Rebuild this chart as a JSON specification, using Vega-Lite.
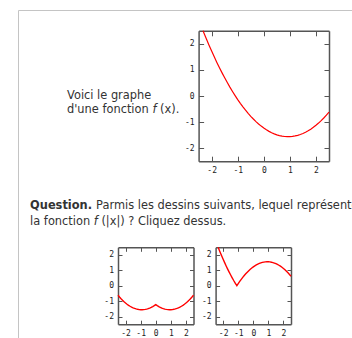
{
  "$schema": "https://vega.github.io/schema/vega-lite/v6.json",
  "width": 336,
  "height": 330,
  "autosize": {"type": "none"},
  "padding": {"left": 18, "top": 10, "right": -2, "bottom": -2},
  "background": "white",
  "datasets": {
    "f": [
      {"x": -2.329, "y": 2.5}, {"x": -2.3, "y": 2.428}, {"x": -2.2, "y": 2.185}, {"x": -2.1, "y": 1.949}, {"x": -2.0, "y": 1.722},
      {"x": -1.9, "y": 1.502}, {"x": -1.8, "y": 1.289}, {"x": -1.7, "y": 1.084}, {"x": -1.6, "y": 0.887}, {"x": -1.5, "y": 0.698},
      {"x": -1.4, "y": 0.516}, {"x": -1.3, "y": 0.341}, {"x": -1.2, "y": 0.175}, {"x": -1.1, "y": 0.016}, {"x": -1.0, "y": -0.136},
      {"x": -0.9, "y": -0.279}, {"x": -0.8, "y": -0.415}, {"x": -0.7, "y": -0.544}, {"x": -0.6, "y": -0.665}, {"x": -0.5, "y": -0.778},
      {"x": -0.4, "y": -0.883}, {"x": -0.3, "y": -0.981}, {"x": -0.2, "y": -1.071}, {"x": -0.1, "y": -1.154}, {"x": 0, "y": -1.229},
      {"x": 0.1, "y": -1.296}, {"x": 0.2, "y": -1.356}, {"x": 0.3, "y": -1.408}, {"x": 0.4, "y": -1.452}, {"x": 0.5, "y": -1.489},
      {"x": 0.6, "y": -1.518}, {"x": 0.7, "y": -1.54}, {"x": 0.8, "y": -1.553}, {"x": 0.9, "y": -1.56}, {"x": 1.0, "y": -1.558},
      {"x": 1.1, "y": -1.549}, {"x": 1.2, "y": -1.532}, {"x": 1.3, "y": -1.508}, {"x": 1.4, "y": -1.476}, {"x": 1.5, "y": -1.436},
      {"x": 1.6, "y": -1.389}, {"x": 1.7, "y": -1.334}, {"x": 1.8, "y": -1.272}, {"x": 1.9, "y": -1.201}, {"x": 2.0, "y": -1.123},
      {"x": 2.1, "y": -1.038}, {"x": 2.2, "y": -0.945}, {"x": 2.3, "y": -0.844}, {"x": 2.4, "y": -0.736}, {"x": 2.5, "y": -0.62}
    ],
    "g": [
      {"x": -2.5, "y": -0.62}, {"x": -2.4, "y": -0.736}, {"x": -2.3, "y": -0.844}, {"x": -2.2, "y": -0.945}, {"x": -2.1, "y": -1.038},
      {"x": -2.0, "y": -1.123}, {"x": -1.9, "y": -1.201}, {"x": -1.8, "y": -1.272}, {"x": -1.7, "y": -1.334}, {"x": -1.6, "y": -1.389},
      {"x": -1.5, "y": -1.436}, {"x": -1.4, "y": -1.476}, {"x": -1.3, "y": -1.508}, {"x": -1.2, "y": -1.532}, {"x": -1.1, "y": -1.549},
      {"x": -1.0, "y": -1.558}, {"x": -0.9, "y": -1.56}, {"x": -0.8, "y": -1.553}, {"x": -0.7, "y": -1.54}, {"x": -0.6, "y": -1.518},
      {"x": -0.5, "y": -1.489}, {"x": -0.4, "y": -1.452}, {"x": -0.3, "y": -1.408}, {"x": -0.2, "y": -1.356}, {"x": -0.1, "y": -1.296},
      {"x": 0, "y": -1.229},
      {"x": 0.1, "y": -1.296}, {"x": 0.2, "y": -1.356}, {"x": 0.3, "y": -1.408}, {"x": 0.4, "y": -1.452}, {"x": 0.5, "y": -1.489},
      {"x": 0.6, "y": -1.518}, {"x": 0.7, "y": -1.54}, {"x": 0.8, "y": -1.553}, {"x": 0.9, "y": -1.56}, {"x": 1.0, "y": -1.558},
      {"x": 1.1, "y": -1.549}, {"x": 1.2, "y": -1.532}, {"x": 1.3, "y": -1.508}, {"x": 1.4, "y": -1.476}, {"x": 1.5, "y": -1.436},
      {"x": 1.6, "y": -1.389}, {"x": 1.7, "y": -1.334}, {"x": 1.8, "y": -1.272}, {"x": 1.9, "y": -1.201}, {"x": 2.0, "y": -1.123},
      {"x": 2.1, "y": -1.038}, {"x": 2.2, "y": -0.945}, {"x": 2.3, "y": -0.844}, {"x": 2.4, "y": -0.736}, {"x": 2.5, "y": -0.62}
    ],
    "h": [
      {"x": -2.329, "y": 2.5}, {"x": -2.3, "y": 2.428}, {"x": -2.2, "y": 2.185}, {"x": -2.1, "y": 1.949}, {"x": -2.0, "y": 1.722},
      {"x": -1.9, "y": 1.502}, {"x": -1.8, "y": 1.289}, {"x": -1.7, "y": 1.084}, {"x": -1.6, "y": 0.887}, {"x": -1.5, "y": 0.698},
      {"x": -1.4, "y": 0.516}, {"x": -1.3, "y": 0.341}, {"x": -1.2, "y": 0.175}, {"x": -1.1, "y": 0.016}, {"x": -1.09, "y": 0},
      {"x": -1.0, "y": 0.136}, {"x": -0.9, "y": 0.279}, {"x": -0.8, "y": 0.415}, {"x": -0.7, "y": 0.544}, {"x": -0.6, "y": 0.665},
      {"x": -0.5, "y": 0.778}, {"x": -0.4, "y": 0.883}, {"x": -0.3, "y": 0.981}, {"x": -0.2, "y": 1.071}, {"x": -0.1, "y": 1.154},
      {"x": 0, "y": 1.229}, {"x": 0.1, "y": 1.296}, {"x": 0.2, "y": 1.356}, {"x": 0.3, "y": 1.408}, {"x": 0.4, "y": 1.452},
      {"x": 0.5, "y": 1.489}, {"x": 0.6, "y": 1.518}, {"x": 0.7, "y": 1.54}, {"x": 0.8, "y": 1.553}, {"x": 0.9, "y": 1.56},
      {"x": 1.0, "y": 1.558}, {"x": 1.1, "y": 1.549}, {"x": 1.2, "y": 1.532}, {"x": 1.3, "y": 1.508}, {"x": 1.4, "y": 1.476},
      {"x": 1.5, "y": 1.436}, {"x": 1.6, "y": 1.389}, {"x": 1.7, "y": 1.334}, {"x": 1.8, "y": 1.272}, {"x": 1.9, "y": 1.201},
      {"x": 2.0, "y": 1.123}, {"x": 2.1, "y": 1.038}, {"x": 2.2, "y": 0.945}, {"x": 2.3, "y": 0.844}, {"x": 2.4, "y": 0.736},
      {"x": 2.5, "y": 0.62}
    ]
  },
  "resolve": {"scale": {"x": "independent", "y": "independent"}},
  "layer": [
    {
      "mark": {"type": "rule", "color": "#aaaaaa", "strokeDash": [1, 2], "strokeWidth": 1},
      "encoding": {
        "x": {"datum": 0, "type": "quantitative", "scale": {"domain": [-2.5, 2.5], "range": [180.6, 311.0], "nice": false, "zero": false},
          "axis": {"orient": "top", "offset": -20.8, "values": [-2, -1, 0, 1, 2], "tickSize": -5, "labels": false, "title": "(x).", "titleX": 141.5, "titleY": 81.5}},
        "y": {"datum": -2.5, "type": "quantitative", "scale": {"domain": [-2.5, 2.5], "range": [151.2, 20.8], "nice": false, "zero": false},
          "axis": {"orient": "right", "offset": -25, "values": [-2, -1, 0, 1, 2], "tickSize": -5, "labels": false, "title": "f", "titleFontStyle": "italic", "titleX": -177.1, "titleY": 102.3}},
        "y2": {"datum": 2.5}
      }
    },
    {
      "mark": {"type": "rule", "color": "#aaaaaa", "strokeDash": [1, 2], "strokeWidth": 1},
      "encoding": {
        "x": {"datum": -2.5, "type": "quantitative", "scale": {"domain": [-2.5, 2.5], "range": [180.6, 311.0], "nice": false, "zero": false}, "axis": null},
        "x2": {"datum": 2.5},
        "y": {"datum": 0, "type": "quantitative", "scale": {"domain": [-2.5, 2.5], "range": [151.2, 20.8], "nice": false, "zero": false}, "axis": null}
      }
    },
    {
      "data": {"name": "f"},
      "mark": {"type": "line", "color": "#ff0000", "strokeWidth": 1.2},
      "encoding": {
        "x": {"field": "x", "type": "quantitative", "scale": {"domain": [-2.5, 2.5], "range": [180.6, 311.0], "nice": false, "zero": false},
          "axis": {"orient": "bottom", "offset": -178.8, "values": [-2, -1, 0, 1, 2], "tickSize": -5, "labelPadding": 10, "title": "Question.", "titleFontWeight": "bold", "titleX": 11.6, "titleY": 46.8}},
        "y": {"field": "y", "type": "quantitative", "scale": {"domain": [-2.5, 2.5], "range": [151.2, 20.8], "nice": false, "zero": false},
          "axis": {"orient": "left", "offset": -180.6, "values": [-2, -1, 0, 1, 2], "tickSize": -5, "labelPadding": 9.5, "title": ["Voici le graphe", "d'une fonction"], "titleLineHeight": 14.3, "titleX": -132.1, "titleY": 88}}
      }
    },
    {
      "mark": {"type": "text", "text": "f (x)", "color": "#ff0000", "align": "right", "baseline": "middle", "font": "DejaVu Sans Mono", "fontSize": 7.5},
      "encoding": {
        "x": {"datum": 0.93, "type": "quantitative", "scale": {"domain": [-2.5, 2.5], "range": [180.6, 311.0], "nice": false, "zero": false}, "axis": null},
        "y": {"datum": 2.15, "type": "quantitative", "scale": {"domain": [-2.5, 2.5], "range": [151.2, 20.8], "nice": false, "zero": false}, "axis": null}
      }
    },
    {
      "mark": {"type": "rule", "color": "#ff6060", "strokeWidth": 2},
      "encoding": {
        "x": {"datum": 1.22, "type": "quantitative", "scale": {"domain": [-2.5, 2.5], "range": [180.6, 311.0], "nice": false, "zero": false}, "axis": null},
        "x2": {"datum": 2.15},
        "y": {"datum": 2.15, "type": "quantitative", "scale": {"domain": [-2.5, 2.5], "range": [151.2, 20.8], "nice": false, "zero": false}, "axis": null}
      }
    },
    {
      "mark": {"type": "rule", "color": "#aaaaaa", "strokeDash": [1, 2], "strokeWidth": 1},
      "encoding": {
        "x": {"datum": 0, "type": "quantitative", "scale": {"domain": [-2.5, 2.5], "range": [100.0, 175.5], "nice": false, "zero": false},
          "axis": {"orient": "top", "offset": -237.3, "values": [-2, -1, 0, 1, 2], "tickSize": -4, "labels": false, "title": "Parmis les dessins suivants, lequel représente", "titleX": 77.6, "titleY": -39.3}},
        "y": {"datum": -2.5, "type": "quantitative", "scale": {"domain": [-2.5, 2.5], "range": [314.2, 237.3], "nice": false, "zero": false},
          "axis": {"orient": "right", "offset": -160.5, "values": [-2, -1, 0, 1, 2], "tickSize": -4, "labels": false, "title": "f", "titleFontStyle": "italic", "titleX": -100.2, "titleY": 214.5}},
        "y2": {"datum": 2.5}
      }
    },
    {
      "mark": {"type": "rule", "color": "#aaaaaa", "strokeDash": [1, 2], "strokeWidth": 1},
      "encoding": {
        "x": {"datum": -2.5, "type": "quantitative", "scale": {"domain": [-2.5, 2.5], "range": [100.0, 175.5], "nice": false, "zero": false}, "axis": null},
        "x2": {"datum": 2.5},
        "y": {"datum": 0, "type": "quantitative", "scale": {"domain": [-2.5, 2.5], "range": [314.2, 237.3], "nice": false, "zero": false}, "axis": null}
      }
    },
    {
      "data": {"name": "g"},
      "mark": {"type": "line", "color": "#ff0000", "strokeWidth": 1.4},
      "encoding": {
        "x": {"field": "x", "type": "quantitative", "scale": {"domain": [-2.5, 2.5], "range": [100.0, 175.5], "nice": false, "zero": false},
          "axis": {"orient": "bottom", "offset": -15.8, "values": [-2, -1, 0, 1, 2], "tickSize": -4, "labelPadding": 9, "title": null}},
        "y": {"field": "y", "type": "quantitative", "scale": {"domain": [-2.5, 2.5], "range": [314.2, 237.3], "nice": false, "zero": false},
          "axis": {"orient": "left", "offset": -100.0, "values": [-2, -1, 0, 1, 2], "tickSize": -4, "labelPadding": 8.5, "title": "la fonction", "titleX": -88.4, "titleY": 214.5}}
      }
    },
    {
      "mark": {"type": "rule", "color": "#aaaaaa", "strokeDash": [1, 2], "strokeWidth": 1},
      "encoding": {
        "x": {"datum": 0, "type": "quantitative", "scale": {"domain": [-2.5, 2.5], "range": [197.6, 273.0], "nice": false, "zero": false},
          "axis": {"orient": "top", "offset": -237.3, "values": [-2, -1, 0, 1, 2], "tickSize": -4, "labels": false, "title": null}},
        "y": {"datum": -2.5, "type": "quantitative", "scale": {"domain": [-2.5, 2.5], "range": [314.2, 237.3], "nice": false, "zero": false},
          "axis": {"orient": "right", "offset": -63, "values": [-2, -1, 0, 1, 2], "tickSize": -4, "labels": false, "title": null}},
        "y2": {"datum": 2.5}
      }
    },
    {
      "mark": {"type": "rule", "color": "#aaaaaa", "strokeDash": [1, 2], "strokeWidth": 1},
      "encoding": {
        "x": {"datum": -2.5, "type": "quantitative", "scale": {"domain": [-2.5, 2.5], "range": [197.6, 273.0], "nice": false, "zero": false}, "axis": null},
        "x2": {"datum": 2.5},
        "y": {"datum": 0, "type": "quantitative", "scale": {"domain": [-2.5, 2.5], "range": [314.2, 237.3], "nice": false, "zero": false}, "axis": null}
      }
    },
    {
      "data": {"name": "h"},
      "mark": {"type": "line", "color": "#ff0000", "strokeWidth": 1.4},
      "encoding": {
        "x": {"field": "x", "type": "quantitative", "scale": {"domain": [-2.5, 2.5], "range": [197.6, 273.0], "nice": false, "zero": false},
          "axis": {"orient": "bottom", "offset": -15.8, "values": [-2, -1, 0, 1, 2], "tickSize": -4, "labelPadding": 9, "title": null}},
        "y": {"field": "y", "type": "quantitative", "scale": {"domain": [-2.5, 2.5], "range": [314.2, 237.3], "nice": false, "zero": false},
          "axis": {"orient": "left", "offset": -197.6, "values": [-2, -1, 0, 1, 2], "tickSize": -4, "labelPadding": 8.5, "title": "(|x|) ? Cliquez dessus.", "titleX": -114.7, "titleY": 214.5}}
      }
    }
  ],
  "config": {
    "view": {"stroke": "#c4c4c4", "strokeWidth": 1},
    "axis": {
      "grid": false,
      "labelFont": "DejaVu Sans Mono",
      "labelFontSize": 8,
      "labelColor": "#222222",
      "labelOverlap": false,
      "labelExpr": "datum.value < 0 ? '-' + (-datum.value) : '' + datum.value",
      "domainColor": "#555555",
      "domainWidth": 1.5,
      "tickColor": "#555555",
      "tickWidth": 1,
      "titleFont": "DejaVu Sans",
      "titleFontSize": 11.4,
      "titleFontWeight": "normal",
      "titleColor": "#333333",
      "titleAngle": 0,
      "titleAlign": "left",
      "titleBaseline": "alphabetic",
      "titleLimit": 1000
    }
  }
}
